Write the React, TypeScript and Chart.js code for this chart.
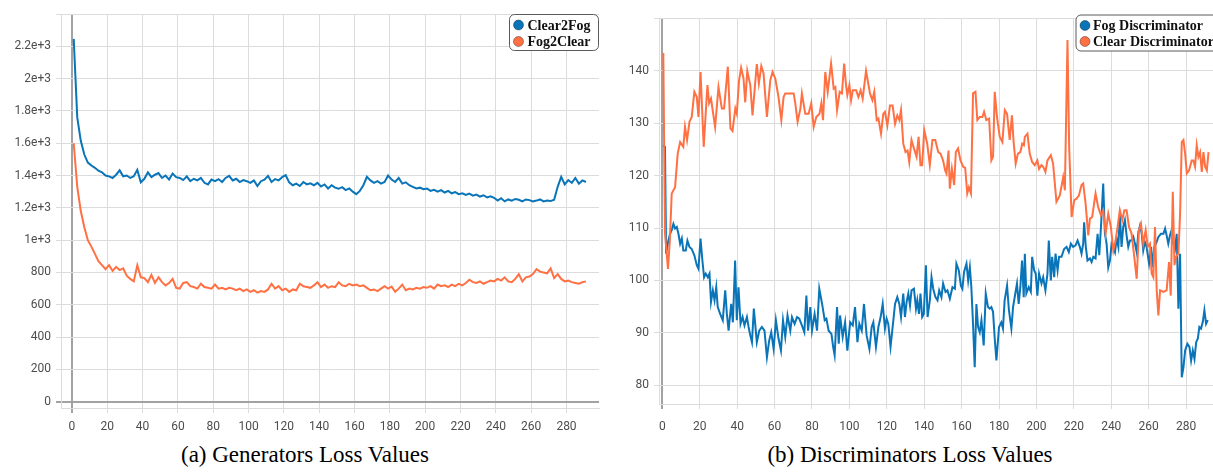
import React, { useEffect, useRef } from 'react';
import { Chart, registerables } from 'chart.js';

Chart.register(...registerables);

// ---------- data ----------
// Generator losses, logged every 2 steps starting at step 1
const genSteps: number[] = Array.from({ length: 146 }, (_, i) => 1 + 2 * i);

const clear2Fog: number[] = [
  2246, 1760, 1615, 1530, 1480, 1462, 1448, 1430, 1420, 1400,
  1395, 1385, 1405, 1432, 1395, 1400, 1385, 1395, 1435, 1358,
  1380, 1420, 1390, 1405, 1415, 1385, 1400, 1375, 1412, 1390,
  1385, 1372, 1395, 1365, 1380, 1370, 1385, 1355, 1345, 1375,
  1365, 1378, 1360, 1385, 1398, 1370, 1380, 1360, 1372, 1365,
  1355, 1370, 1335, 1365, 1375, 1398, 1360, 1378, 1370, 1390,
  1402, 1358, 1340, 1350, 1335, 1360, 1345, 1352, 1340, 1355,
  1332, 1345, 1320, 1340, 1325, 1318, 1328, 1310, 1320, 1300,
  1285, 1305, 1340, 1392, 1370, 1355, 1365, 1350, 1360, 1400,
  1375, 1360, 1385, 1350, 1358, 1340, 1330, 1320, 1325, 1315,
  1320, 1305, 1312, 1300, 1310, 1295, 1305, 1290, 1298, 1285,
  1290, 1280, 1288, 1275, 1282, 1270, 1278, 1265, 1272, 1262,
  1245, 1260, 1240, 1252, 1245, 1255, 1250, 1240, 1252, 1248,
  1240, 1245, 1252, 1240, 1245, 1242, 1250, 1330, 1392, 1345,
  1372, 1355, 1385, 1350, 1370, 1360,
];

const fog2Clear: number[] = [
  1600, 1330, 1180, 1080, 1000, 960, 915, 870, 845, 820,
  845, 810, 835, 815, 825, 780, 760, 745, 845, 770,
  765, 740, 785, 735, 770, 740, 720, 735, 760, 705,
  700, 735, 740, 715, 710, 700, 730, 710, 705, 700,
  725, 700, 705, 695, 705, 700, 690, 700, 685, 695,
  680, 690, 675, 685, 680, 695, 730, 700, 715, 690,
  700, 680, 695, 690, 730, 715, 710, 705, 720, 740,
  710, 725, 705, 715, 710, 740, 720, 715, 730, 720,
  725, 715, 720, 705, 690, 695, 685, 700, 715, 700,
  712, 680, 700, 725, 690, 700, 695, 705, 700, 710,
  705, 715, 700, 725, 715, 720, 710, 725, 715, 730,
  720, 735, 755, 740, 735, 745, 730, 740, 750, 745,
  760, 750, 770, 745, 740, 760, 790, 745, 770, 775,
  790, 820, 805, 800, 795, 825, 765, 790, 760, 745,
  750, 740, 735, 730, 740, 745,
];

// Discriminator losses: [step, value]
const fogDiscriminator: [number, number][] = [
  [0.5, 125.8], [1.4, 125.5], [2, 105.1], [3.2, 107.6], [4.1, 108.9], [5, 109.6], [5.9, 110.8], [6.8, 109.9],
  [7.7, 110.2], [8.6, 108.9], [9.5, 107], [10.4, 108], [11.2, 105.7], [12.5, 105.7], [13.4, 107.6], [14.5, 106.4],
  [15.7, 106], [17.1, 104.8], [18.4, 102.9], [19.3, 102.2], [20.4, 108], [21.4, 103.8], [22.3, 100.6], [23.2, 101.3],
  [24.3, 100.6], [25.2, 101.3], [26, 95.9], [27, 98.1], [27.9, 96.2], [28.8, 98.7], [29.6, 94.9], [30.9, 93.6],
  [32.3, 92.4], [33.6, 98.1], [34.5, 93.6], [35.4, 90.4], [36.8, 95.5], [37.7, 92], [38.9, 103.8], [39.8, 92.4],
  [40.7, 98.7], [41.8, 91.7], [42.9, 93], [43.9, 91.4], [45.2, 93], [46.1, 91.1], [47, 89.5], [47.9, 88.2],
  [48.9, 94.6], [50.5, 88.2], [51.8, 90.4], [53.2, 91.1], [54.6, 90.4], [55.9, 85.3], [57.1, 88.5], [58.2, 90.1],
  [59.5, 86.9], [60.7, 92.4], [62.1, 88.9], [63.4, 86.6], [64.5, 92.4], [65.7, 89.2], [66.9, 93.3], [68.4, 90.4],
  [69.3, 93], [70.7, 91.7], [72, 93], [73.2, 92.7], [74.6, 91.4], [75.9, 90.1], [77, 97.1], [77.9, 90.4],
  [79.1, 94.9], [80, 90.4], [81.4, 93.6], [82.7, 90.4], [83.9, 98.4], [85.4, 95.5], [86.8, 92.4], [87.7, 92.7],
  [88.9, 90.4], [90.4, 89.8], [91.3, 87.3], [92.1, 85.7], [93.4, 94.9], [94.3, 87.9],
  [95, 93.3], [96.4, 89.2], [97.7, 92], [98.9, 86.6], [100.4, 92], [101.8, 91.4], [103, 94.9], [104.3, 88.2],
  [105.3, 91.7], [106.6, 90.4], [107.8, 95.5], [109.2, 89.5], [110.7, 86.9], [111.9, 91.1], [112.8, 92], [114.2, 87.3],
  [115.5, 91.1], [116.7, 93], [117.8, 95.5], [119, 90.8], [119.9, 92.7], [120.8, 91.7], [122, 87.3], [123.5, 92.4],
  [124.4, 95.5], [125.6, 96.8], [126.7, 95.5], [127.6, 93], [128.8, 97.5], [129.7, 93], [130.6, 95.9], [131.5, 97.5],
  [132.4, 95.2], [133.2, 98.1], [134.5, 98.4], [135.6, 94.6], [136.3, 96.2], [137.2, 93.6], [138, 97.5], [138.9, 93],
  [139.8, 93.6], [140.9, 102.9], [141.8, 93], [143, 96.2], [143.9, 100.6], [144.8, 98.4], [146, 96.8], [147.1, 96.2],
  [148, 98.1], [149.2, 96.8], [150.1, 99.4], [151.4, 97.8], [152.4, 98.1], [153.7, 96.5], [155.1, 98.7], [156.4, 98.4],
  [157.2, 103.2], [158.5, 101.9], [159.6, 99], [160.4, 98.4], [161.3, 101.6], [162.6, 103.2], [163.5, 100], [164.4, 102.5],
  [165.2, 98.7], [166.1, 91.7], [167, 83.4], [167.9, 95.5], [168.8, 91.1], [169.7, 90.1], [170.6, 92.4], [171.8, 87.6],
  [172.9, 97.5], [174.1, 94.9], [175, 94.6], [175.9, 94.9], [176.8, 94], [177.7, 88.9], [178.6, 84.7], [180, 91.1],
  [181.2, 92], [182.1, 90.8], [183, 96.2], [184.3, 99], [185.3, 94.3], [186.6, 90.8], [187.5, 94.9], [188.7, 97.5],
  [189.6, 99.4], [190.5, 95.5], [191.4, 98.7], [192.3, 103.8], [193.2, 96.8],
  [193.8, 105.1], [194.6, 97.5], [195.9, 98.7], [197, 97.8], [197.7, 104.5], [198.8, 101.9], [199.6, 101.3], [200.5, 97.1],
  [201.4, 101.3], [202.7, 99.4], [203.6, 100.6], [204.8, 98.1], [205.9, 101.3], [206.6, 107.6], [207.7, 100], [208.4, 104.5],
  [209.5, 100.6], [210.2, 105.1], [211.3, 101.9], [212.1, 104.5], [213.4, 104.5], [214.8, 106], [216.1, 106.4], [217.3, 105.4],
  [218.4, 107], [219.6, 106.4], [220.9, 106.7], [222, 107.6], [223.2, 106.4], [224.1, 105.1], [225, 107], [225.5, 111.1],
  [226.4, 106.4], [227.3, 103.8], [228.6, 104.2], [229.5, 103.5], [230.4, 104.5], [231.6, 104.2], [232.7, 108.9], [233.6, 104.8],
  [234.5, 110.2], [235.7, 118.5], [236.6, 108.9], [237.5, 107], [238.4, 102.5], [239.3, 103.8], [240.2, 107], [241.1, 106.4],
  [242, 105.4], [242.9, 108], [243.8, 106.4], [244.6, 112.7], [245.5, 106.4], [246.4, 110.2], [247.3, 111.5], [248.2, 108.6],
  [249.1, 106.4], [250, 107.6], [250.9, 107.6], [251.8, 108.3], [252.7, 107], [253.6, 105.4], [254.5, 109.2], [255.4, 110.5],
  [256.3, 108.9], [257.1, 105.7], [258, 107.3], [258.9, 106.4], [260.2, 103.2], [261.3, 106.4], [262.1, 102.5], [263, 106.4],
  [263.9, 107], [265.2, 108.3], [266.6, 108.9], [267.9, 108.9], [268.8, 109.9], [269.6, 108.6], [270.5, 107], [271.4, 108.6],
  [272.3, 109.6], [273.2, 107], [274.1, 106], [275, 108.9], [275.9, 94.6], [276.8, 105.1], [277.7, 81.5], [278.6, 83.4],
  [279.5, 86.6], [280.7, 87.9], [281.8, 87.3], [282.7, 84.7], [283.6, 86.6], [284.5, 85], [285.4, 88.2], [286.3, 88.9],
  [287.1, 91.1], [288, 90.8], [288.9, 92], [289.8, 94.3], [290.7, 91.7], [291.6, 92.4],
];

const clearDiscriminator: [number, number][] = [
  [0.5, 143.4], [1.4, 109], [3, 102.2], [4, 107.6], [5, 116.6], [6.8, 117.8], [8.2, 124.2], [9.5, 126.4],
  [11.2, 125.5], [12.1, 129.3], [13.2, 126.8], [14.5, 130.3], [15.7, 131.2], [17.1, 136], [18.4, 135], [19.3, 131.2],
  [20.4, 139.8], [22.1, 125.5], [24.1, 137.3], [25, 133.8], [26, 134.7], [28.2, 129.3], [30, 136.9], [31.8, 132.8],
  [33, 132.8], [35, 140.8], [36.4, 129], [37.5, 128.5], [39, 132.8], [39.8, 131.8], [41, 138.2], [42.1, 140.6],
  [43.4, 138.5], [44.3, 134], [45.4, 140], [47, 137.3], [48.2, 131.5], [49.6, 137.6], [50.5, 141.3], [51.6, 137.6],
  [52.9, 140.9], [54.1, 139.5], [55.9, 131.2], [57.7, 138.2], [58.9, 139.8], [60.4, 138.5], [62.1, 135], [63.6, 130.6],
  [64.8, 135], [65.7, 135.7], [67.5, 135.7], [70.2, 135.7], [71, 134], [72.3, 130.3], [73.8, 132.8], [74.6, 135.7],
  [76.4, 131.8], [78.2, 131.8], [79.6, 133.8], [80.9, 129.3], [82.3, 131.2], [84, 131.8], [85, 133.8], [85.9, 130.6],
  [87.1, 139.8], [88.4, 136], [90.2, 141.4], [91.6, 136.6], [92.5, 136.9], [93.4, 132.5], [94.8, 136],
  [96, 135.7], [97.2, 141.4], [98.2, 137.3], [98.9, 135.4], [100, 137.3], [100.9, 134.4], [101.8, 136.3], [103.6, 136.3],
  [104.8, 135], [106, 136.3], [107.1, 134.7], [108.9, 140], [111, 135.7], [112.3, 134.4], [113.3, 136], [114.6, 130.6],
  [115.5, 130.9], [116.9, 128], [118.1, 131.8], [119, 132.2], [120.3, 129.6], [121.7, 133.4], [123.1, 133.4], [124.4, 129.9],
  [125.6, 131.5], [126.7, 130.6], [127.6, 132.5], [128.8, 126.1], [130, 124.5], [131.1, 124.8], [132, 122.6], [133.2, 126.8],
  [134.5, 125.2], [135.9, 123.6], [137, 127.4], [138, 122], [138.9, 122], [140, 128.7], [141.6, 126.1], [143, 122],
  [144.4, 126.8], [145.9, 126.8], [147.5, 124.5], [148.7, 124.2], [150.1, 122.9], [151.2, 121], [151.9, 120.4], [153, 124.8],
  [153.7, 117.5], [154.8, 121.3], [156, 118.2], [156.9, 124.5], [158.1, 125.2], [159.4, 122.9], [160.8, 121.7], [161.9, 121.5],
  [163, 116.6], [163.9, 117.8], [165, 116.6], [166.1, 135.7], [167.4, 136], [168.4, 130.6], [169.7, 131.2], [171.1, 131.2],
  [172, 132.2], [173.2, 130.6], [174.7, 130.9], [175.9, 122.9], [176.8, 123.6], [177.7, 136], [178.9, 131.2], [180.4, 127.4],
  [181.8, 126.4], [183.1, 132.5], [184.3, 131.8], [185.7, 126.8], [186.9, 131.5], [187.8, 126.4], [188.9, 122.3], [190.1, 124.2],
  [191.4, 124.5], [192.4, 126.1], [193.3, 125.8],
  [193.8, 127.4], [195.2, 128], [196.4, 124.2], [197.7, 122.6], [199.1, 122], [200.5, 122.9], [201.4, 121.3], [202.7, 122],
  [203.6, 121.7], [204.8, 120.7], [205.9, 122.9], [207.7, 123.9], [208.9, 122.3], [210.7, 115], [212.5, 116.2], [214.3, 119.7],
  [215.2, 117.2], [216.6, 145.9], [217.5, 125.5], [218.8, 112.1], [220.2, 115.3], [221.4, 115.6], [222.7, 116.2], [224.1, 118.2],
  [225, 118.5], [226.3, 114.6], [227.7, 108.6], [228.6, 111.8], [229.8, 112.1], [231.6, 116.6], [233, 114], [234.5, 112.4],
  [235.7, 113.4], [237, 108.9], [238.4, 112.7], [239.8, 110.2], [241.1, 105.7], [242.3, 107.6], [243.4, 110.2], [244.6, 113.4],
  [245.9, 111.5], [247, 113.4], [248.2, 113.4], [249.5, 110.2], [250.9, 108.9], [252.3, 104.5], [253.6, 100.3], [254.8, 109.6],
  [255.9, 110.8], [257.1, 107], [258.4, 109.6], [259.5, 106.4], [260.7, 107], [261.6, 101.3], [262.5, 100.6], [263.4, 110.2],
  [264.3, 98.1], [265.2, 93.3], [266.1, 98.1], [267.9, 97.8], [269.6, 98.1], [270.9, 103.5], [271.8, 97.1], [272.9, 116.9],
  [273.8, 102.9], [274.6, 104.5], [275.9, 105.1], [276.8, 112.7], [277.7, 126.4], [278.6, 126.8], [279.5, 124.2], [280.4, 120.4],
  [281.6, 121], [283, 122.9], [283.9, 122.9], [284.8, 121.7], [285.7, 125.8], [286.6, 123.6], [287.5, 124.5], [288.4, 120.7],
  [289.3, 124.5], [290.2, 121.7], [291.1, 121], [292, 124.5],
];

// tick positions
const stepTicks: number[] = [0, 20, 40, 60, 80, 100, 120, 140, 160, 180, 200, 220, 240, 260, 280];
const genLossTicks: number[] = [0, 200, 400, 600, 800, 1000, 1200, 1400, 1600, 1800, 2000, 2200, 2400];
const discLossTicks: number[] = [80, 90, 100, 110, 120, 130, 140, 150];

// ---------- styling ----------
const BLUE = '#0a74b9';
const ORANGE = '#ff7043';
const GRID = '#dcdcdc';
const ZERO = '#a2a2a2';
const TICK_COLOR = '#4d4d4d';
const TICK_FONT = { family: 'Roboto, "Liberation Sans", Arial, sans-serif', size: 12 };

function roundedRect(ctx: CanvasRenderingContext2D, x: number, y: number, w: number, h: number, r: number) {
  ctx.beginPath();
  ctx.moveTo(x + r, y);
  ctx.lineTo(x + w - r, y);
  ctx.arcTo(x + w, y, x + w, y + r, r);
  ctx.lineTo(x + w, y + h - r);
  ctx.arcTo(x + w, y + h, x + w - r, y + h, r);
  ctx.lineTo(x + r, y + h);
  ctx.arcTo(x, y + h, x, y + h - r, r);
  ctx.lineTo(x, y + r);
  ctx.arcTo(x, y, x + r, y, r);
  ctx.closePath();
}

const boxLegend = {
  id: 'boxLegend',
  afterDraw(chart: any, _args: any, opts: any) {
    if (!opts || !opts.box) return;
    const ctx: CanvasRenderingContext2D = chart.ctx;
    const { x, y, w, h } = opts.box;
    ctx.save();
    roundedRect(ctx, x + 0.5, y + 0.5, w, h, 5);
    ctx.fillStyle = '#ffffff';
    ctx.fill();
    ctx.strokeStyle = '#5a5a5a';
    ctx.lineWidth = 1;
    ctx.stroke();
    chart.data.datasets.forEach((ds: any, i: number) => {
      const cy = y + opts.firstRow + i * opts.rowGap;
      ctx.beginPath();
      ctx.arc(x + opts.dotX, cy, 5, 0, Math.PI * 2);
      ctx.fillStyle = ds.borderColor;
      ctx.fill();
      ctx.strokeStyle = 'rgba(0,0,0,0.35)';
      ctx.lineWidth = 1;
      ctx.stroke();
      ctx.fillStyle = '#111111';
      ctx.font = 'bold 14px "Liberation Serif", "Times New Roman", serif';
      ctx.textBaseline = 'middle';
      ctx.textAlign = 'left';
      ctx.fillText(ds.label, x + opts.textX, cy + 1);
    });
    ctx.restore();
  },
};

function grid() {
  return {
    color: (c: any) => (c.tick && c.tick.value === 0 ? ZERO : GRID),
    lineWidth: (c: any) => (c.tick && c.tick.value === 0 ? 2 : 1),
    tickLength: 5,
    drawTicks: true,
  };
}

interface AxisSpec {
  xMin: number; xMax: number; yMin: number; yMax: number;
  yTicks: number[];
  yWidth: number; xHeight: number; xPad: number; padTop: number; padRight: number;
  yFormat: (v: number) => string;
  legend: any;
}

function buildConfig(datasets: any[], a: AxisSpec): any {
  return {
    type: 'line',
    data: { datasets },
    plugins: [boxLegend],
    options: {
      animation: false,
      responsive: false,
      devicePixelRatio: 1,
      layout: { padding: { top: a.padTop, right: a.padRight, left: 0, bottom: 0 } },
      elements: { point: { radius: 0 }, line: { tension: 0, borderWidth: 2 } },
      plugins: {
        legend: { display: false },
        tooltip: { enabled: false },
        boxLegend: a.legend,
      },
      scales: {
        x: {
          type: 'linear',
          min: a.xMin,
          max: a.xMax,
          grid: grid(),
          border: { display: true, color: GRID, width: 1 },
          ticks: {
            autoSkip: false,
            maxRotation: 0,
            padding: a.xPad,
            color: TICK_COLOR,
            font: TICK_FONT,
            callback: (v: any) => String(v),
          },
          afterBuildTicks: (s: any) => { s.ticks = stepTicks.map((v) => ({ value: v })); },
          afterFit: (s: any) => { s.height = a.xHeight; },
        },
        y: {
          type: 'linear',
          min: a.yMin,
          max: a.yMax,
          grid: grid(),
          border: { display: true, color: GRID, width: 1 },
          ticks: {
            autoSkip: false,
            padding: 5,
            color: TICK_COLOR,
            font: TICK_FONT,
            callback: (v: any) => a.yFormat(Number(v)),
          },
          afterBuildTicks: (s: any) => { s.ticks = a.yTicks.map((v) => ({ value: v })); },
          afterFit: (s: any) => { s.width = a.yWidth; },
        },
      },
    },
  };
}

function GeneratorChart() {
  const ref = useRef<HTMLCanvasElement>(null);
  useEffect(() => {
    const datasets = [
      { label: 'Clear2Fog', data: genSteps.map((s, i) => ({ x: s, y: clear2Fog[i] })), borderColor: BLUE, backgroundColor: BLUE, order: 1 },
      { label: 'Fog2Clear', data: genSteps.map((s, i) => ({ x: s, y: fog2Clear[i] })), borderColor: ORANGE, backgroundColor: ORANGE, order: 0 },
    ];
    const chart = new Chart(ref.current as HTMLCanvasElement, buildConfig(datasets, {
      xMin: -6.2, xMax: 298.4, yMin: -39, yMax: 2400, yTicks: genLossTicks,
      yWidth: 61, xHeight: 32, xPad: 7, padTop: 14, padRight: 6,
      yFormat: (v) => (v >= 2400 ? '' : v >= 1000 ? `${v / 1000}e+3` : String(v)),
      legend: { box: { x: 509, y: 14, w: 89, h: 36 }, dotX: 9.5, firstRow: 11, rowGap: 16.5, textX: 18.5 },
    }));
    return () => chart.destroy();
  }, []);
  return <canvas ref={ref} width={605} height={440} style={{ position: 'absolute', left: 0, top: 0, width: 605, height: 440 }} />;
}

function DiscriminatorChart() {
  const ref = useRef<HTMLCanvasElement>(null);
  useEffect(() => {
    const datasets = [
      { label: 'Fog Discriminator', data: fogDiscriminator.map(([x, y]) => ({ x, y })), borderColor: BLUE, backgroundColor: BLUE, order: 1 },
      { label: 'Clear Discriminator', data: clearDiscriminator.map(([x, y]) => ({ x, y })), borderColor: ORANGE, backgroundColor: ORANGE, order: 0 },
    ];
    const chart = new Chart(ref.current as HTMLCanvasElement, buildConfig(datasets, {
      xMin: -1.8, xMax: 294.4, yMin: 76.4, yMax: 150, yTicks: discLossTicks,
      yWidth: 54, xHeight: 36, xPad: 11, padTop: 18.5, padRight: 0,
      yFormat: (v) => (v >= 150 ? '' : String(v)),
      legend: { box: { x: 470.5, y: 14.5, w: 160, h: 36 }, dotX: 9.5, firstRow: 11, rowGap: 16, textX: 17.5 },
    }));
    return () => chart.destroy();
  }, []);
  return <canvas ref={ref} width={608} height={440} style={{ position: 'absolute', left: 605, top: 0, width: 608, height: 440 }} />;
}

const captionStyle: React.CSSProperties = {
  position: 'absolute',
  top: 440,
  height: 30,
  lineHeight: '30px',
  fontFamily: '"Liberation Serif", "Times New Roman", serif',
  fontSize: 23,
  color: '#000',
  textAlign: 'center',
  whiteSpace: 'nowrap',
};

export default function App() {
  return (
    <div style={{ position: 'absolute', left: 0, top: 0, width: 1213, height: 474, overflow: 'hidden', background: '#fff' }}>
      <GeneratorChart />
      <DiscriminatorChart />
      <div style={{ ...captionStyle, left: 0, width: 610 }}>(a) Generators Loss Values</div>
      <div style={{ ...captionStyle, left: 610, width: 600 }}>(b) Discriminators Loss Values</div>
    </div>
  );
}
